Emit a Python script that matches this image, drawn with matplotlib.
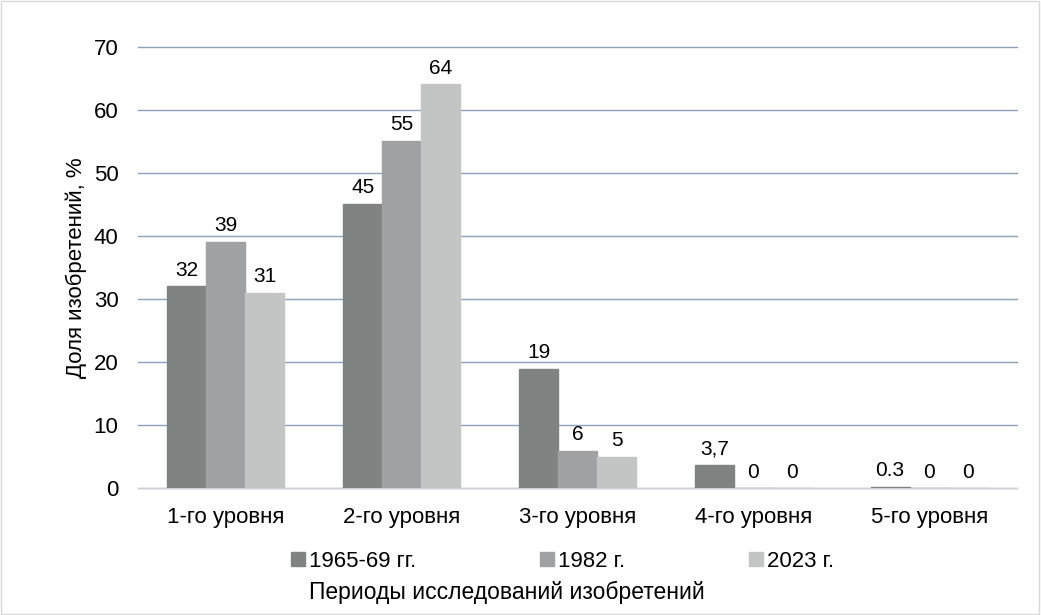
import matplotlib.pyplot as plt
import numpy as np
from matplotlib.patches import Patch

plt.rcParams['font.family'] = ['Liberation Sans', 'DejaVu Sans']

categories = ["1-го уровня", "2-го уровня", "3-го уровня", "4-го уровня", "5-го уровня"]
series_names = ["1965-69 гг.", "1982 г.", "2023 г."]
v1965 = [32, 45, 19, 3.7, 0.3]
v1982 = [39, 55, 6, 0, 0]
v2023 = [31, 64, 5, 0, 0]
labels1965 = ["32", "45", "19", "3,7", "0.3"]
labels1982 = ["39", "55", "6", "0", "0"]
labels2023 = ["31", "64", "5", "0", "0"]

colors = ["#7f8482", "#a0a1a3", "#c3c4c4"]

fig = plt.figure(figsize=(10.41, 6.15), dpi=100)
ax = fig.add_axes([0.1326, 0.2057, 0.8444, 0.7185])

x = np.arange(len(categories))
w = 0.222
series = [v1965, v1982, v2023]
labels = [labels1965, labels1982, labels2023]
for i, (vals, labs) in enumerate(zip(series, labels)):
    pos = x + (i - 1) * w
    ax.bar(pos, vals, width=w, color=colors[i], edgecolor=colors[i], linewidth=1, zorder=3)
    for p, v, t in zip(pos, vals, labs):
        ax.annotate(t, xy=(p, v), xytext=(0, 5), textcoords='offset points',
                    ha='center', va='bottom', fontsize=15, color='#000000')

ax.set_ylim(0, 70)
ax.set_xlim(-0.5, 4.5)
ax.set_yticks(range(0, 71, 10))
ax.set_xticks(x)
ax.set_xticklabels(categories)
ax.tick_params(axis='both', length=0, labelsize=16, colors='#000000')
ax.tick_params(axis='y', pad=14)
ax.tick_params(axis='x', pad=13)
ax.yaxis.grid(True, color='#8ea1bb', linewidth=1, zorder=0)
for gl in ax.get_ygridlines():
    gl.set_clip_on(False)
for s in ['top', 'right', 'left']:
    ax.spines[s].set_visible(False)
ax.spines['bottom'].set_color('#d0d0d0')
ax.set_ylabel("Доля изобретений, %", fontsize=16)
ax.yaxis.set_label_coords(-0.058, 0.5)

handles = [Patch(facecolor=c, edgecolor=c) for c in colors]
fig.legend(handles, series_names, loc='center', bbox_to_anchor=(0.5404, 0.087), ncol=3,
           frameon=False, fontsize=16, handlelength=0.63, handleheight=0.63,
           handletextpad=0.15, columnspacing=5.6, borderpad=0, borderaxespad=0)
fig.text(0.487, 0.0374, "Периоды исследований изобретений", ha='center', va='center', fontsize=16.5)

# light frame around the whole chart
fig.patches.append(plt.Rectangle((0.001, 0.001), 0.997, 0.997, transform=fig.transFigure,
                                 fill=False, edgecolor='#d9d9d9', linewidth=1))

fig.savefig("out.png", dpi=100)
